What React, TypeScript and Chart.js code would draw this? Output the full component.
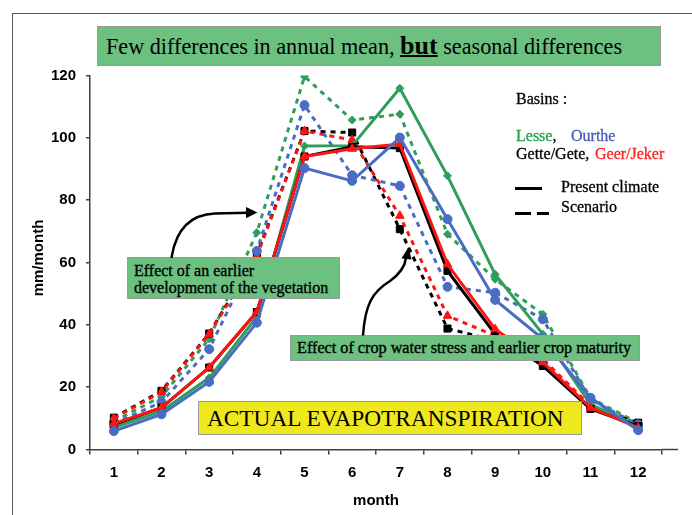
import React, { useEffect, useRef } from "react";
import { Chart, registerables } from "chart.js";

Chart.register(...registerables);

// ---------- data ----------
const months = ["1", "2", "3", "4", "5", "6", "7", "8", "9", "10", "11", "12"];
const yTicks = [0, 20, 40, 60, 80, 100, 120];

const lessePresent = [7, 12.3, 23, 42.5, 97.4, 97.5, 115.9, 87.8, 56.2, 37, 14.5, 7.5];
const lesseScenario = [9, 17, 35.5, 69.6, 119.7, 105.7, 107.6, 69.1, 54.6, 43.4, 16.5, 8.5];
const ourthePresent = [5.9, 11.3, 21.7, 40.7, 90.3, 86.2, 100.1, 73.9, 48, 35.5, 16.6, 6.2];
const ourtheScenario = [8.3, 15.2, 32.2, 63.7, 110.5, 88, 84.6, 52.2, 50.3, 41.8, 16, 8];
const gettePresent = [8, 13.4, 26.3, 44.1, 94, 97.1, 96.7, 57.3, 37, 26.8, 13, 7.5];
const getteScenario = [10.2, 18.8, 37.2, 62.7, 102.2, 101.7, 70.7, 38.8, 35, 28, 13.5, 8.6];
const geerPresent = [8.3, 13.4, 26.3, 44.1, 94, 96.5, 98, 59.4, 38.6, 28, 13.4, 7];
const geerScenario = [10, 18.5, 37, 62, 102.2, 99.3, 75, 42.9, 36.5, 29, 14, 7.5];

// ---------- styles ----------
const GREEN = "#2e9e5a";
const BLUE = "#4a6cc4";
const RED = "#ff1414";
const BLACK = "#000000";
const BOX_GREEN = "#6cc080";
const SERIF = '"Liberation Serif", "Times New Roman", serif';
const SANS = '"Liberation Sans", Arial, sans-serif';
const AXIS = "#404040";

function ds(label: string, data: number[], color: string, pointStyle: string, radius: number, dashed: boolean) {
  return {
    label,
    data,
    borderColor: color,
    backgroundColor: color,
    pointBackgroundColor: color,
    pointBorderColor: color,
    pointStyle,
    pointRadius: radius,
    pointBorderWidth: 1,
    borderWidth: 3,
    borderDash: dashed ? [5, 5] : [],
    tension: 0,
    fill: false,
  };
}

const axisExtension = {
  id: "axisExtension",
  afterDraw(chart: any) {
    const { ctx, chartArea } = chart;
    ctx.save();
    ctx.strokeStyle = AXIS;
    ctx.lineWidth = 1.5;
    ctx.beginPath();
    ctx.moveTo(chartArea.right, chartArea.bottom);
    ctx.lineTo(chartArea.right + 16, chartArea.bottom);
    ctx.stroke();
    ctx.restore();
  },
};

function Txt(props: {
  left: number;
  cy: number;
  size: number;
  color?: string;
  children: any;
  family?: string;
  weight?: any;
  lh?: number;
  stroke?: number;
}) {
  const lh = props.lh ?? Math.round(props.size * 1.4);
  const st: any = {
    position: "absolute",
    left: props.left,
    top: props.cy - lh / 2,
    height: lh,
    lineHeight: lh + "px",
    fontSize: props.size,
    fontFamily: props.family ?? SERIF,
    fontWeight: props.weight ?? "normal",
    color: props.color ?? "#000",
    whiteSpace: "nowrap",
  };
  if (props.stroke) st.WebkitTextStroke = props.stroke + "px " + (props.color ?? "#000");
  return <div style={st}>{props.children}</div>;
}

function Box(props: { left: number; top: number; right: number; bottom: number; bg: string }) {
  return (
    <div
      style={{
        position: "absolute",
        left: props.left,
        top: props.top,
        width: props.right - props.left,
        height: props.bottom - props.top,
        background: props.bg,
        border: "1px solid #9a9a9a",
        boxSizing: "border-box",
      }}
    />
  );
}

export default function App() {
  const canvasRef = useRef<HTMLCanvasElement | null>(null);

  useEffect(() => {
    document.body.style.margin = "0";
    const canvas = canvasRef.current;
    if (!canvas) return;
    const tickFont = { family: SANS, size: 15, weight: "bold" as const };
    const chart = new Chart(canvas, {
      type: "line",
      data: {
        labels: months,
        datasets: [
          ds("Ourthe present", ourthePresent, BLUE, "circle", 4.5, false),
          ds("Geer/Jeker present", geerPresent, RED, "triangle", 5, false),
          ds("Gette/Gete present", gettePresent, BLACK, "rect", 5, false),
          ds("Lesse present", lessePresent, GREEN, "rectRot", 4, false),
          ds("Ourthe scenario", ourtheScenario, BLUE, "circle", 4.5, true),
          ds("Geer/Jeker scenario", geerScenario, RED, "triangle", 5, true),
          ds("Gette/Gete scenario", getteScenario, BLACK, "rect", 5, true),
          ds("Lesse scenario", lesseScenario, GREEN, "rectRot", 4, true),
        ] as any,
      },
      options: {
        responsive: false,
        animation: false,
        layout: { padding: { top: 75.5, right: 30, left: 0, bottom: 0 } },
        plugins: {
          legend: { display: false },
          tooltip: { enabled: false },
          title: { display: false },
        },
        scales: {
          x: {
            type: "category",
            offset: true,
            grid: {
              offset: true,
              drawOnChartArea: false,
              drawTicks: true,
              tickLength: 5,
              color: AXIS,
              lineWidth: 1.5,
            },
            border: { display: true, color: AXIS, width: 1.5 },
            ticks: { font: tickFont, color: "#000", padding: 9, maxRotation: 0, autoSkip: false },
            afterFit: (s: any) => {
              s.height = 65.5;
            },
          },
          y: {
            min: 0,
            max: 120,
            afterBuildTicks: (s: any) => {
              s.ticks = yTicks.map((v) => ({ value: v }));
            },
            grid: {
              drawOnChartArea: false,
              drawTicks: true,
              tickLength: 4,
              color: AXIS,
              lineWidth: 1.5,
            },
            border: { display: true, color: AXIS, width: 1.5 },
            ticks: { font: tickFont, color: "#000", padding: 10 },
            afterFit: (s: any) => {
              s.width = 90;
            },
          },
        },
      } as any,
      plugins: [axisExtension],
    });
    return () => chart.destroy();
  }, []);

  return (
    <div
      style={{
        position: "absolute",
        left: 0,
        top: 0,
        width: 692,
        height: 515,
        overflow: "hidden",
        background: "#fff",
      }}
    >
      {/* frame */}
      <div
        style={{
          position: "absolute",
          left: 12,
          top: 13,
          width: 720,
          height: 540,
          borderTop: "1px solid #555",
          borderLeft: "1px solid #555",
        }}
      />
      <canvas ref={canvasRef} width={692} height={515} style={{ position: "absolute", left: 0, top: 0 }} />

      {/* title box */}
      <Box left={97} top={26} right={660.5} bottom={65.7} bg={BOX_GREEN} />
      <div
        style={{
          position: "absolute",
          left: 106,
          top: 30.5,
          lineHeight: "30px",
          fontSize: 22.2,
          fontFamily: SERIF,
          whiteSpace: "nowrap",
          color: "#000",
        }}
      >
        Few differences in annual mean,{" "}
        <b style={{ fontSize: 26, textDecoration: "underline", textDecorationThickness: "2px" }}>but</b> seasonal differences
      </div>

      {/* legend */}
      <Txt left={516} cy={99.3} size={16} stroke={0.3}>Basins :</Txt>
      <Txt left={516} cy={136} size={16} color="#22a04b" stroke={0.3}>
        Lesse<span style={{ color: "#000", WebkitTextStroke: "0.3px #000" } as any}>,</span>
      </Txt>
      <Txt left={571} cy={136} size={16} color="#4b5cb8" stroke={0.3}>Ourthe</Txt>
      <Txt left={516} cy={154} size={16} stroke={0.3}>Gette/Gete,</Txt>
      <Txt left={595} cy={154} size={16} color="#ff1f1f" stroke={0.3}>Geer/Jeker</Txt>
      <div style={{ position: "absolute", left: 515, top: 187, width: 27, height: 3, background: "#000" }} />
      <Txt left={561} cy={186.7} size={16} stroke={0.3}>Present climate</Txt>
      <div style={{ position: "absolute", left: 515, top: 211.5, width: 16, height: 3, background: "#000" }} />
      <div style={{ position: "absolute", left: 537, top: 211.5, width: 12, height: 3, background: "#000" }} />
      <Txt left={561} cy={206.7} size={16} stroke={0.3}>Scenario</Txt>

      {/* annotation 1 */}
      <Box left={126.5} top={257.3} right={339.5} bottom={299.3} bg={BOX_GREEN} />
      <Txt left={134} cy={270.7} size={16} stroke={0.35}>Effect of an earlier</Txt>
      <Txt left={134} cy={288.3} size={16} stroke={0.35}>development of the vegetation</Txt>

      {/* annotation 2 */}
      <Box left={290} top={335.3} right={639.5} bottom={361.5} bg={BOX_GREEN} />
      <Txt left={297} cy={348.3} size={16.2} stroke={0.35}>Effect of crop water stress and earlier crop maturity</Txt>

      {/* yellow label */}
      <Box left={198.3} top={400.7} right={581.7} bottom={435} bg="#f0e81e" />
      <Txt left={207} cy={418.3} size={23.3}>ACTUAL EVAPOTRANSPIRATION</Txt>

      {/* axis titles */}
      <div
        style={{
          position: "absolute",
          left: 376 - 50,
          top: 500 - 10,
          width: 100,
          height: 20,
          lineHeight: "20px",
          textAlign: "center",
          fontFamily: SANS,
          fontWeight: "bold",
          fontSize: 15,
          color: "#000",
        }}
      >
        month
      </div>
      <div
        style={{
          position: "absolute",
          left: 38 - 60,
          top: 258 - 10,
          width: 120,
          height: 20,
          lineHeight: "20px",
          textAlign: "center",
          fontFamily: SANS,
          fontWeight: "bold",
          fontSize: 15,
          color: "#000",
          transform: "rotate(-90deg)",
        }}
      >
        mm/month
      </div>

      {/* arrows */}
      <svg width={692} height={515} style={{ position: "absolute", left: 0, top: 0 }}>
        <path d="M 171.5 258 Q 178 215 215 213.5 L 248 212.7" fill="none" stroke="#000" strokeWidth={2.5} />
        <polygon points="257.5,212.6 246,207 246,218.2" fill="#000" />
        <path d="M 363 335.5 C 365 305, 372 292, 390 281 C 401 273, 405 266, 406 258" fill="none" stroke="#000" strokeWidth={2.5} />
        <polygon points="408.5,247 401.5,258.5 411.5,259.5" fill="#000" />
      </svg>
    </div>
  );
}
